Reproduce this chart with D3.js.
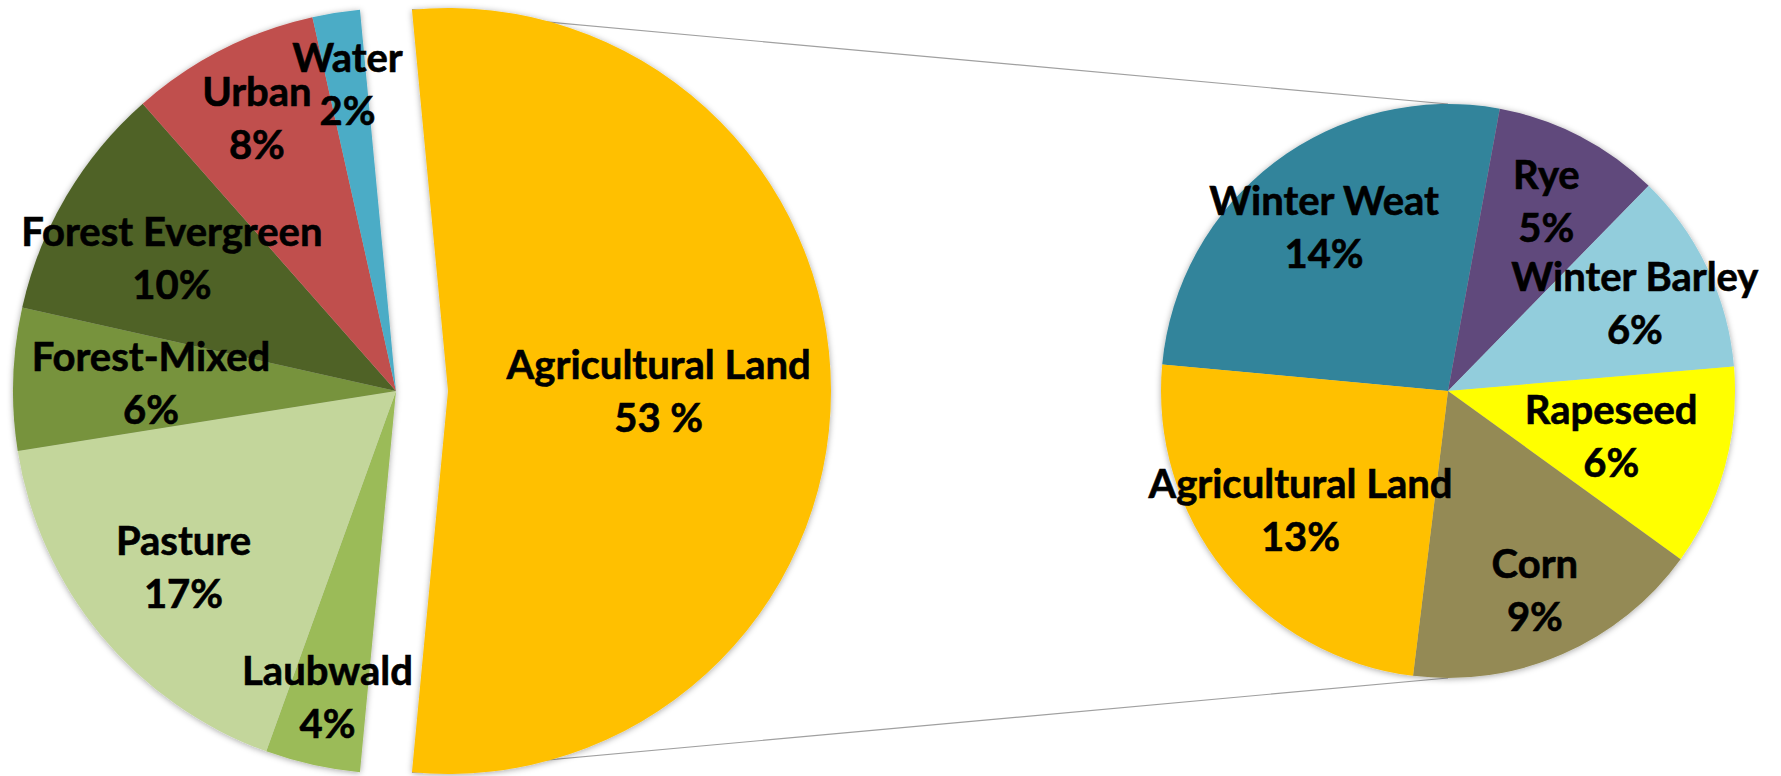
<!DOCTYPE html>
<html>
<head>
<meta charset="utf-8">
<script src="https://cdn.jsdelivr.net/npm/d3@7"></script>
<style>
  html, body { margin: 0; padding: 0; background: #fff; }
  svg { display: block; }
  .lbl { font-family: Lato, "Open Sans", sans-serif; font-weight: 700; fill: #000; stroke: #000; stroke-width: 0.6; }
</style>
</head>
<body>
<svg id="chart" width="1781" height="776"></svg>
<script>
// Land use shares, percent (clockwise from the split-off slice)
const landNames  = ["Agricultural Land", "Laubwald", "Pasture", "Forest-Mixed", "Forest Evergreen", "Urban", "Water"];
const landValues = [53, 4, 17, 6, 10, 8, 2];
const landColors = ["#FFC000", "#9BBB59", "#C3D69B", "#77933C", "#4F6228", "#C0504D", "#4BACC6"];

// Breakdown of the agricultural land, percent of the total area
const cropNames  = ["Winter Weat", "Rye", "Winter Barley", "Rapeseed", "Corn", "Agricultural Land"];
const cropValues = [14, 5, 6, 6, 9, 13];
const cropColors = ["#31849B", "#604A7B", "#92CDDC", "#FFFF00", "#948A54", "#FFC000"];

// Layout
const W = 1781, H = 776;
const left  = { cx: 396, cy: 391, r: 383, explode: 52 };
const right = { cx: 1448, cy: 391, r: 287, rotation: -84.7 };
const fontSize = 40, lineGap = 53;
// label distance from the centre, as a share of the radius
const landLabelRadius = [0.55, 0.82, 0.72, 0.64, 0.68, 0.80, 0.81];
const cropLabelRadius = [0.715, 0.745, 0.72, 0.59, 0.757, 0.66];

const svg = d3.select("#chart").attr("viewBox", `0 0 ${W} ${H}`);

const defs = svg.append("defs");
defs.append("filter").attr("id", "soft")
  .attr("x", "-10%").attr("y", "-10%").attr("width", "120%").attr("height", "120%")
  .append("feDropShadow")
  .attr("dx", 0).attr("dy", 1).attr("stdDeviation", 3)
  .attr("flood-color", "#000").attr("flood-opacity", 0.35);

// First pie: split-off slice centred on 3 o'clock
const landTotal = d3.sum(landValues);
const splitShare = landValues[0] / landTotal;
const landPie = d3.pie().sort(null).value(d => d.v)
  .startAngle(Math.PI / 2 - splitShare * Math.PI)
  .endAngle(Math.PI / 2 - splitShare * Math.PI + 2 * Math.PI);
const landArcs = landPie(landNames.map((n, i) => ({ n, v: landValues[i], c: landColors[i] })));
const landArc = d3.arc().innerRadius(0).outerRadius(left.r);

// Second pie
const cropPie = d3.pie().sort(null).value(d => d.v)
  .startAngle(right.rotation * Math.PI / 180)
  .endAngle(right.rotation * Math.PI / 180 + 2 * Math.PI);
const cropArcs = cropPie(cropNames.map((n, i) => ({ n, v: cropValues[i], c: cropColors[i] })));
const cropArc = d3.arc().innerRadius(0).outerRadius(right.r);

// Connector lines from the split slice edges to the top and bottom of the second pie
const split = landArcs[0];
const splitMid = (split.startAngle + split.endAngle) / 2;
const apex = [left.cx + left.explode * Math.sin(splitMid), left.cy - left.explode * Math.cos(splitMid)];
const corner = a => [apex[0] + left.r * Math.sin(a), apex[1] - left.r * Math.cos(a)];
const connectors = [
  [corner(split.startAngle), [right.cx, right.cy - right.r]],
  [corner(split.endAngle),   [right.cx, right.cy + right.r]]
];
svg.append("g").selectAll("line").data(connectors).join("line")
  .attr("x1", d => d[0][0]).attr("y1", d => d[0][1])
  .attr("x2", d => d[1][0]).attr("y2", d => d[1][1])
  .attr("stroke", "#A0A0A0").attr("stroke-width", 1.2);

// Remaining slices of the first pie
const gLeft = svg.append("g").attr("transform", `translate(${left.cx},${left.cy})`);
gLeft.append("g").attr("filter", "url(#soft)")
  .selectAll("path").data(landArcs.slice(1)).join("path")
  .attr("d", landArc).attr("fill", d => d.data.c);

// Split-off slice
svg.append("g").attr("transform", `translate(${apex[0]},${apex[1]})`)
  .attr("filter", "url(#soft)")
  .append("path").datum(split).attr("d", landArc).attr("fill", d => d.data.c);

// Second pie slices
const gRight = svg.append("g").attr("transform", `translate(${right.cx},${right.cy})`);
gRight.append("g").attr("filter", "url(#soft)")
  .selectAll("path").data(cropArcs).join("path")
  .attr("d", cropArc).attr("fill", d => d.data.c);

// Two-line labels: category name and percentage
function drawLabel(pos, name, pct) {
  const capHalf = fontSize * 0.36;
  const t = svg.append("text").attr("class", "lbl")
    .attr("text-anchor", "middle").attr("font-size", fontSize);
  t.append("tspan").attr("x", pos[0]).attr("y", pos[1] - lineGap / 2 + capHalf).text(name);
  t.append("tspan").attr("x", pos[0]).attr("y", pos[1] + lineGap / 2 + capHalf).text(pct);
}

landArcs.forEach((d, i) => {
  const a = (d.startAngle + d.endAngle) / 2;
  const rr = landLabelRadius[i] * left.r;
  const origin = i === 0 ? apex : [left.cx, left.cy];
  const pos = [origin[0] + rr * Math.sin(a), origin[1] - rr * Math.cos(a)];
  const pct = i === 0 ? `${d.data.v} %` : `${d.data.v}%`;
  drawLabel(pos, d.data.n, pct);
});

cropArcs.forEach((d, i) => {
  const a = (d.startAngle + d.endAngle) / 2;
  const rr = cropLabelRadius[i] * right.r;
  const pos = [right.cx + rr * Math.sin(a), right.cy - rr * Math.cos(a)];
  drawLabel(pos, d.data.n, `${d.data.v}%`);
});
</script>
</body>
</html>
